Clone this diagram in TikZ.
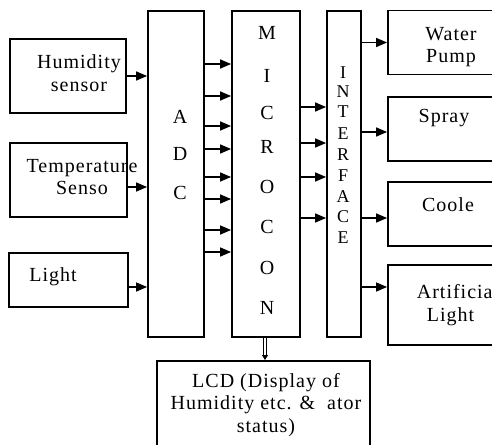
\documentclass[tikz,border=0pt]{standalone}
\usepackage{fontspec}
\setmainfont{Liberation Serif}[LetterSpace=5]
\usetikzlibrary{arrows.meta}

\begin{document}
\begin{tikzpicture}[
    x=1pt, y=-1pt,
    every node/.style={font=\fontsize{20}{22.5}\selectfont},
    box/.style={draw, line width=1.8pt, fill=white, inner sep=0pt},
    txt/.style={inner sep=0pt, align=center},
    arr/.style={-{Triangle[length=11pt, width=9pt]}, line width=1.5pt},
    dblarr/.style={double, double distance=2pt, line width=0.9pt,
                   -{Triangle[length=5pt, width=6pt]}},
]
\useasboundingbox (0,0) rectangle (492,444);

% ===== LEFT: sensors =====
\node[box, minimum width=116pt, minimum height=74pt] (hum)   at (68,76)    {};
\node[box, minimum width=117pt, minimum height=74pt] (temp)  at (68.5,180) {};
\node[box, minimum width=119pt, minimum height=54pt] (light) at (68.5,280) {};
\node[txt] (humtxt)   at (79,73)  {Humidity\\sensor};
\node[txt] (temptxt)  at (82,177) {Temperature\\Senso};
\node[txt] (lighttxt) at (53,277) {Light};

% ===== MIDDLE: ADC, micro, interface =====
\node[box, minimum width=56pt, minimum height=326pt] (adc)  at (176,174) {};
\node[box, minimum width=68pt, minimum height=326pt] (mcu)  at (266,174) {};
\node[box, minimum width=34pt, minimum height=326pt] (intf) at (344,174) {};

% vertical letters
\foreach \l/\y [count=\i] in {A/117, D/154, C/193}
    \node[txt] (adc-\i) at (180,\y) {\l};
\foreach \l/\y [count=\i] in {M/33, I/76, C/113, R/147, O/187, C/227, O/268, N/308}
    \node[txt] (mcu-\i) at (267,\y) {\l};
\foreach \l/\y [count=\i] in {I/73, N/92, T/112, E/134, R/155, F/176, A/197, C/217, E/238}
    \node[txt, font=\fontsize{18}{20}\selectfont] (intf-\i) at (343,\y) {\l};

% ===== RIGHT: actuators =====
\node[box, minimum width=132pt, minimum height=64pt] (pump)  at (454,42.5) {};
\node[box, minimum width=132pt, minimum height=64pt] (spray) at (454,129)  {};
\node[box, minimum width=132pt, minimum height=64pt] (cool)  at (454,214)  {};
\node[box, minimum width=132pt, minimum height=80pt] (art)   at (454,305)  {};
\node[txt] (pumptxt)  at (451,47)  {Water\\Pump};
\node[txt] (spraytxt) at (444,118) {Spray};
\node[txt] (cooltxt)  at (448,205) {Coole};
\node[txt, align=left] (arttxt) at (458,305) {Artificial\\\hspace{10pt}Light};

% ===== BOTTOM: display =====
\node[box, minimum width=213pt, minimum height=100pt, anchor=north] (lcd) at (263.5,360) {};
\node[txt] (lcdtxt) at (266,405)
      {LCD (Display of\\Humidity etc. \& \ ator\\status)};

% sensor arrows
\draw[arr] (hum.east) -- (hum.east -| adc.west);
\draw[arr] (temp.east |- 0,187) -- (adc.west |- 0,187);
\draw[arr] (light.east |- 0,287) -- (adc.west |- 0,287);

% adc to micro
\foreach \y in {64, 96, 126, 149, 177, 199, 230, 252}
    \draw[arr] (adc.east |- 0,\y) -- (mcu.west |- 0,\y);

% micro to interface
\foreach \y in {107, 143, 177, 218}
    \draw[arr] (mcu.east |- 0,\y) -- (intf.west |- 0,\y);

% interface to actuators
\draw[arr] (intf.east |- pump.west) -- (pump.west);
\draw[arr] (intf.east |- 0,132) -- (spray.west |- 0,132);
\draw[arr] (intf.east |- 0,218) -- (cool.west |- 0,218);
\draw[arr] (intf.east |- 0,287) -- (art.west |- 0,287);

% micro to display
\draw[dblarr] (mcu.south -| 265,0) -- (lcd.north -| 265,0);

\end{tikzpicture}
\end{document}
